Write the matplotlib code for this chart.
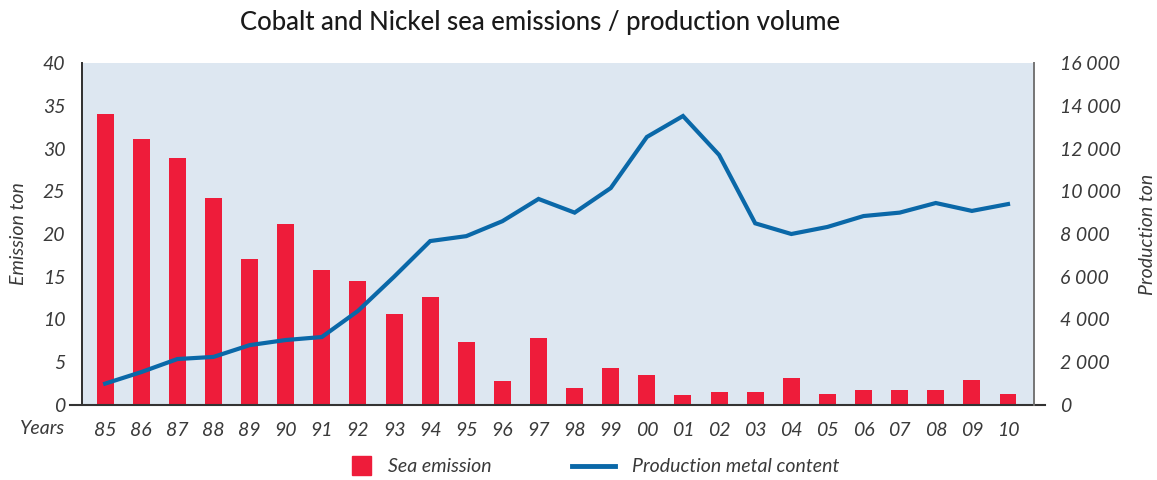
import matplotlib.pyplot as plt
import numpy as np
from matplotlib.lines import Line2D
from matplotlib.patches import Rectangle

plt.rcParams['font.family'] = ['Lato', 'DejaVu Sans']

years = ["85", "86", "87", "88", "89", "90", "91", "92", "93", "94", "95", "96", "97",
         "98", "99", "00", "01", "02", "03", "04", "05", "06", "07", "08", "09", "10"]
sea_emission = [34.0, 31.1, 28.9, 24.2, 17.1, 21.2, 15.8, 14.5, 10.6, 12.6, 7.4, 2.8, 7.8,
                2.0, 4.3, 3.5, 1.2, 1.5, 1.5, 3.2, 1.3, 1.8, 1.8, 1.8, 2.9, 1.3]
production = [1000, 1540, 2150, 2250, 2800, 3040, 3180, 4400, 6000, 7670, 7900, 8600, 9640,
              9000, 10150, 12540, 13520, 11700, 8500, 8000, 8330, 8840, 9000, 9450, 9080, 9400]

bar_color = "#ee1c3a"
line_color = "#0a68a8"
bg_color = "#dde7f1"
text_color = "#3a3a3a"
fs = 14

fig = plt.figure(figsize=(11.57, 4.8), dpi=100)
ax = fig.add_axes([0.0709, 0.15625, 0.8228, 0.7125])
ax.set_facecolor(bg_color)

x = np.arange(len(years))
ax.bar(x, sea_emission, width=0.47, color=bar_color, zorder=2)
ax.set_xlim(-0.64, 25.72)
ax.set_ylim(0, 40)
ax.set_yticks(range(0, 41, 5))
ax.set_xticks(x)
ax.set_xticklabels(years)

ax2 = ax.twinx()
ax2.plot(x, production, color=line_color, lw=3, zorder=3, solid_joinstyle="miter")
ax2.set_ylim(0, 16000)
ax2.set_yticks(range(0, 16001, 2000))
ax2.set_yticklabels([f"{v:,}".replace(",", " ") for v in range(0, 16001, 2000)])

for a in (ax, ax2):
    a.tick_params(length=0, labelsize=fs, labelcolor=text_color)
    for lab in a.get_xticklabels() + a.get_yticklabels():
        lab.set_style("italic")
    a.spines["top"].set_visible(False)
    a.spines["bottom"].set_visible(False)
    a.spines["left"].set_color("#333333")
    a.spines["right"].set_color("#777777")
    a.spines["left"].set_linewidth(1.3)
    a.spines["right"].set_linewidth(1.3)

ax.tick_params(axis="y", pad=12)
ax2.tick_params(axis="y", pad=19)
ax.tick_params(axis="x", pad=12)

# bottom baseline extending past both spines
ax.plot([-0.013, 1.012], [0, 0], transform=ax.transAxes, color="#333333", lw=1.5,
        clip_on=False, zorder=5)

ax.set_ylabel("Emission ton", fontsize=fs, style="italic", color=text_color)
ax2.set_ylabel("Production ton", fontsize=fs, style="italic", color=text_color)
ax.yaxis.set_label_coords(-0.058, 0.5)
ax2.yaxis.set_label_coords(1.1103, 0.5)

fig.text(0.056, 0.108, "Years", fontsize=fs, style="italic", color=text_color,
         ha="right", va="center")

fig.text(0.467, 0.953, "Cobalt and Nickel sea emissions / production volume",
         fontsize=18.5, fontweight="medium", color="#1a1a1a", ha="center", va="center")

# legend drawn in figure pixels
W, H = 1157, 480
fig.patches.append(Rectangle((352 / W, (480 - 475) / H), 19 / W, 19 / H,
                             transform=fig.transFigure, color=bar_color))
fig.text(388 / W, (480 - 466) / H, "Sea emission", fontsize=fs, style="italic",
         color=text_color, va="center")
fig.lines.append(Line2D([572 / W, 615 / W], [(480 - 466) / H] * 2, transform=fig.transFigure,
                        color=line_color, lw=3.5))
fig.text(632 / W, (480 - 466) / H, "Production metal content", fontsize=fs, style="italic",
         color=text_color, va="center")

fig.savefig("out.png", dpi=100)
